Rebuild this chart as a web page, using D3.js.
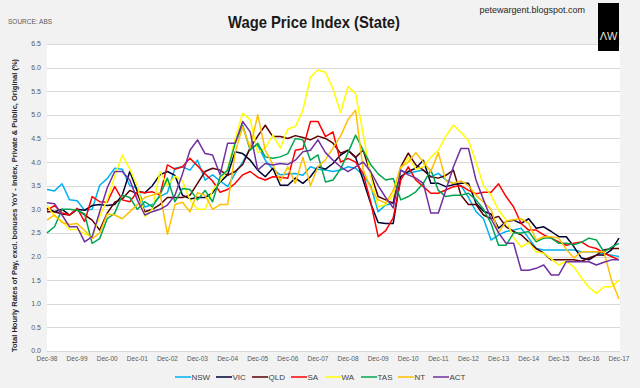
<!DOCTYPE html>
<html>
<head>
<meta charset="utf-8">
<script src="https://cdn.jsdelivr.net/npm/d3@7"></script>
<style>
  html, body { margin: 0; padding: 0; background: #f2f2f2; }
  svg { display: block; }
  text { font-family: "Liberation Sans Narrow", "Liberation Sans", Arial, sans-serif; }
</style>
</head>
<body>
<div id="wrapper"></div>
<script>
// quarterly YoY growth, Dec-98 .. Dec-17 (77 quarters)
const seriesNames = ["NSW", "VIC", "QLD", "SA", "WA", "TAS", "NT", "ACT"];
const seriesColors = ["#00b0f0", "#000033", "#5a0000", "#ff0000", "#ffff00", "#00a64f", "#ffc000", "#7030a0"];
const yearLabels = ["Dec-98", "Dec-99", "Dec-00", "Dec-01", "Dec-02", "Dec-03", "Dec-04", "Dec-05", "Dec-06", "Dec-07",
  "Dec-08", "Dec-09", "Dec-10", "Dec-11", "Dec-12", "Dec-13", "Dec-14", "Dec-15", "Dec-16", "Dec-17"];
const yTicks = [0, 0.5, 1, 1.5, 2, 2.5, 3, 3.5, 4, 4.5, 5, 5.5, 6, 6.5];

const nsw = [3.42, 3.39, 3.54, 3.2, 3.18, 2.98, 3.0, 3.51, 3.65, 3.87, 3.85, 3.5, 3.45, 3.05, 3.1, 3.27,
  3.35, 3.87, 3.9, 3.83, 4.04, 3.62, 3.73, 3.6, 3.48, 3.76, 4.0, 4.29, 4.36, 4.04, 3.85, 3.73,
  3.75, 3.76, 3.72, 3.9, 3.85, 3.83, 3.8, 3.83, 3.9, 3.87, 3.72, 3.5, 2.95, 3.09, 3.13, 3.83,
  3.76, 3.8, 3.83, 3.69, 3.76, 3.62, 3.55, 3.5, 3.25, 2.95, 2.8, 2.35, 2.46, 2.53, 2.56, 2.6,
  2.39, 2.17, 2.14, 2.14, 2.14, 2.14, 2.14, 2.1, 2.1, 2.1, 2.06, 2.03, 2.0];
const vic = [3.02, 2.95, 3.0, 2.88, 3.0, 2.98, 3.08, 3.1, 3.08, 3.1, 3.3, 3.8, 3.38, 3.35, 3.5, 3.73,
  3.8, 3.72, 3.3, 3.22, 3.25, 3.25, 3.35, 3.58, 3.73, 4.22, 4.18, 4.04, 3.83, 3.69, 3.87, 3.51,
  3.51, 3.66, 3.55, 3.69, 3.9, 3.85, 3.97, 4.15, 4.25, 4.1, 3.62, 3.13, 2.72, 2.7, 2.7, 3.69,
  3.8, 3.87, 4.04, 3.55, 3.55, 3.48, 3.52, 3.55, 3.55, 3.13, 2.96, 2.9, 2.6, 2.74, 2.77, 2.7,
  2.8, 2.6, 2.63, 2.53, 2.42, 2.42, 2.21, 1.97, 1.93, 2.03, 2.03, 2.14, 2.39];
const qld = [2.95, 2.95, 2.9, 2.88, 3.0, 2.88, 2.77, 2.56, 2.92, 3.15, 3.22, 3.4, 3.33, 2.95, 3.0, 3.1,
  3.25, 3.25, 3.25, 3.3, 3.55, 3.8, 3.87, 3.83, 3.72, 3.8, 3.95, 4.3, 4.55, 4.78, 4.54, 4.54,
  4.5, 4.56, 4.52, 4.47, 4.55, 4.5, 4.4, 4.19, 4.25, 4.1, 4.25, 3.76, 3.27, 3.2, 3.13, 3.9,
  4.19, 3.94, 3.83, 3.69, 3.66, 3.72, 3.83, 3.3, 3.1, 3.1, 2.88, 2.8, 2.85, 2.63, 2.53, 2.46,
  2.31, 2.17, 2.07, 1.93, 1.93, 1.93, 1.93, 1.9, 1.97, 2.03, 2.14, 2.17, 2.17];
const sa = [2.98, 3.08, 2.92, 2.88, 3.02, 2.74, 3.27, 3.16, 3.15, 3.48, 3.2, 3.16, 3.37, 3.35, 3.37, 3.3,
  3.94, 3.85, 3.9, 4.08, 3.92, 3.75, 3.6, 3.36, 3.42, 3.55, 3.73, 3.8, 3.68, 3.62, 3.69, 3.68,
  3.66, 4.25, 4.28, 4.86, 4.86, 4.54, 4.64, 4.0, 4.08, 4.0, 3.76, 3.16, 2.42, 2.55, 2.82, 3.62,
  3.9, 3.62, 3.48, 3.34, 3.34, 3.41, 3.48, 3.5, 3.4, 3.33, 3.36, 3.36, 3.54, 3.27, 3.05, 2.7,
  2.56, 2.56, 2.46, 2.39, 2.31, 2.24, 2.28, 2.31, 2.21, 2.17, 2.07, 2.0, 1.93];
const wa = [3.08, 2.85, 2.75, 2.57, 2.57, 2.48, 2.42, 2.85, 3.2, 3.7, 4.15, 3.85, 3.5, 2.85, 3.0, 3.8,
  3.5, 3.7, 3.6, 3.2, 3.0, 3.0, 3.4, 3.6, 3.85, 4.5, 5.03, 4.9, 4.2, 4.3, 4.57, 4.3,
  4.7, 4.75, 5.1, 5.8, 5.95, 5.9, 5.55, 5.05, 5.6, 5.45, 4.6, 3.7, 3.05, 3.1, 3.3, 3.85,
  4.1, 3.85, 3.9, 4.1, 4.25, 4.55, 4.78, 4.63, 4.45, 4.0, 3.5, 3.3, 2.98, 2.77, 2.4, 2.2,
  2.3, 2.1, 2.07, 1.95, 1.82, 1.9, 1.78, 1.55, 1.35, 1.22, 1.36, 1.36, 1.5];
const tas = [2.5, 2.63, 3.0, 3.0, 2.98, 2.9, 2.28, 2.38, 2.8, 2.92, 3.3, 3.25, 3.0, 3.16, 3.05, 3.3,
  3.66, 3.16, 3.44, 3.42, 3.2, 3.4, 3.16, 3.69, 3.83, 4.4, 4.78, 4.25, 4.4, 4.11, 4.08, 4.11,
  4.18, 4.5, 4.47, 4.04, 4.15, 3.58, 3.62, 3.85, 4.2, 4.57, 4.25, 3.95, 3.75, 3.62, 3.65, 3.2,
  3.27, 3.37, 3.55, 3.83, 3.4, 3.27, 3.3, 3.3, 3.34, 3.2, 3.0, 2.7, 2.24, 2.24, 2.5, 2.5,
  2.53, 2.31, 2.39, 2.39, 2.28, 2.28, 2.25, 2.3, 2.39, 2.35, 2.1, 2.2, 2.28];
const nt = [2.77, 2.88, 2.72, 2.68, 2.7, 2.55, 2.38, 2.5, 2.9, 2.88, 2.8, 2.95, 3.1, 3.25, 3.3, 3.35,
  2.47, 3.1, 3.15, 2.95, 3.35, 3.3, 3.0, 3.1, 3.1, 4.2, 4.75, 4.3, 5.0, 4.25, 3.95, 3.6,
  3.9, 3.55, 4.1, 3.5, 3.9, 4.05, 4.3, 4.55, 4.9, 5.1, 3.85, 3.45, 3.2, 3.13, 3.4, 3.9,
  4.0, 4.2, 4.0, 3.8, 4.2, 3.6, 3.55, 3.6, 3.5, 3.3, 3.15, 3.0, 2.5, 2.75, 2.78, 2.8,
  2.7, 2.35, 2.42, 2.42, 2.39, 2.15, 1.97, 2.1, 2.1, 2.1, 2.1, 1.5, 1.1];
const act = [3.14, 3.12, 2.88, 2.63, 2.63, 2.31, 2.42, 2.95, 3.45, 3.8, 3.8, 3.62, 3.2, 2.88, 2.95, 3.0,
  3.09, 3.3, 3.75, 4.25, 4.47, 4.18, 4.15, 3.73, 4.4, 4.4, 4.86, 4.64, 3.83, 3.97, 3.94, 3.97,
  3.95, 4.04, 4.22, 4.25, 4.47, 4.2, 4.04, 3.9, 3.8, 3.9, 4.0, 3.8, 3.5, 3.25, 3.03, 3.83,
  3.73, 3.66, 3.55, 2.92, 2.92, 3.41, 3.9, 4.29, 4.29, 3.62, 3.2, 2.8, 2.5, 2.28, 2.28, 1.71,
  1.71, 1.75, 1.82, 1.61, 1.61, 1.89, 1.89, 1.89, 1.89, 1.82, 1.88, 1.93, 1.93];

const seriesValues = [nsw, vic, qld, sa, wa, tas, nt, act];

function drawChart() {
  const width = 640;
  const height = 388;
  const plot = { left: 47, right: 620, top: 44, bottom: 351 };

  const svg = d3
    .select("#wrapper")
    .append("svg")
    .attr("width", width)
    .attr("height", height);

  svg.append("rect").attr("width", width).attr("height", height).attr("fill", "#f2f2f2");

  const x = d3
    .scaleLinear()
    .domain([0, nsw.length - 1])
    .range([plot.left, 619]);
  const y = d3.scaleLinear().domain([0, 6.5]).range([plot.bottom, plot.top]);

  // plot area
  svg
    .append("rect")
    .attr("x", plot.left)
    .attr("y", plot.top)
    .attr("width", plot.right - plot.left)
    .attr("height", plot.bottom - plot.top)
    .attr("fill", "#ffffff");

  // horizontal grid + y labels
  const yAxis = svg.append("g");
  yTicks.forEach((t) => {
    yAxis
      .append("line")
      .attr("x1", plot.left)
      .attr("x2", plot.right)
      .attr("y1", Math.round(y(t)) + 0.5)
      .attr("y2", Math.round(y(t)) + 0.5)
      .attr("stroke", "#d9d9d9")
      .attr("stroke-width", 1);
    yAxis
      .append("text")
      .attr("x", 41)
      .attr("y", y(t))
      .attr("dy", "0.35em")
      .attr("text-anchor", "end")
      .attr("font-size", 7)
      .attr("fill", "#595959")
      .text(d3.format(".1f")(t));
  });

  // x labels, one per December
  const xAxis = svg.append("g");
  yearLabels.forEach((lab, i) => {
    xAxis
      .append("text")
      .attr("x", x(i * 4))
      .attr("y", 361)
      .attr("text-anchor", "middle")
      .attr("font-size", 6.5)
      .attr("fill", "#595959")
      .text(lab);
  });

  // lines
  const line = d3
    .line()
    .x((d, i) => x(i))
    .y((d) => y(d));

  svg
    .append("g")
    .selectAll("path")
    .data(seriesValues)
    .join("path")
    .attr("d", line)
    .attr("fill", "none")
    .attr("stroke", (d, i) => seriesColors[i])
    .attr("stroke-width", 1.5)
    .attr("stroke-linejoin", "round");

  // title & header texts
  svg
    .append("text")
    .attr("x", 314)
    .attr("y", 28)
    .attr("text-anchor", "middle")
    .attr("font-size", 17)
    .attr("font-weight", "bold")
    .attr("fill", "#1a1a1a")
    .attr("textLength", 172)
    .attr("lengthAdjust", "spacingAndGlyphs")
    .text("Wage Price Index (State)");

  svg
    .append("text")
    .attr("x", 8)
    .attr("y", 24)
    .attr("font-size", 6.5)
    .attr("fill", "#595959")
    .text("SOURCE: ABS");

  svg
    .append("text")
    .attr("x", 585)
    .attr("y", 13)
    .attr("text-anchor", "end")
    .attr("font-size", 9)
    .attr("fill", "#262626")
    .text("petewargent.blogspot.com");

  // logo box
  svg.append("rect").attr("x", 598).attr("y", 3).attr("width", 21).attr("height", 48).attr("fill", "#000000");
  svg
    .append("text")
    .attr("x", 608.5)
    .attr("y", 40)
    .attr("text-anchor", "middle")
    .attr("font-size", 11)
    .attr("fill", "#e8e2cf")
    .text("ΛW");

  // y title
  svg
    .append("text")
    .attr("transform", `translate(17, ${(plot.top + plot.bottom) / 2 + 8}) rotate(-90)`)
    .attr("text-anchor", "middle")
    .attr("font-size", 7.5)
    .attr("font-weight", "bold")
    .attr("fill", "#262626")
    .text("Total Hourly Rates of Pay, excl. bonuses YoY - Index, Private & Public, Original (%)");

  // legend
  const legendX = [175, 216, 252, 291, 325, 361, 398, 433];
  const legend = svg
    .append("g")
    .selectAll("g")
    .data(seriesNames)
    .join("g")
    .attr("transform", (d, i) => `translate(${legendX[i]}, 377)`);

  legend
    .append("line")
    .attr("x1", 0)
    .attr("x2", 16)
    .attr("stroke", (d, i) => seriesColors[i])
    .attr("stroke-width", 1.5);

  legend
    .append("text")
    .attr("x", 16.5)
    .attr("dy", "0.35em")
    .attr("font-size", 8)
    .attr("fill", "#404040")
    .text((d) => d);
}

drawChart();
</script>
</body>
</html>
